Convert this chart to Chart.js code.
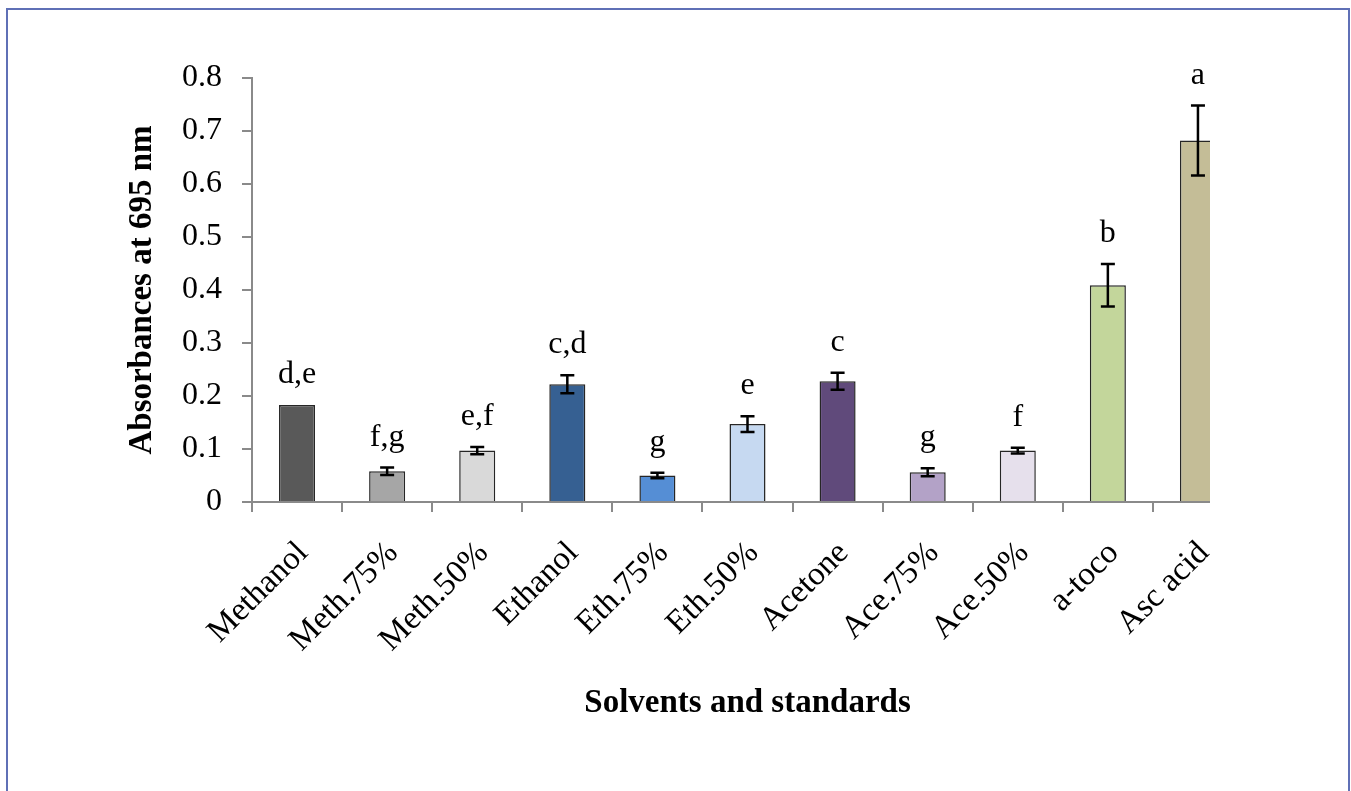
<!DOCTYPE html>
<html>
<head>
<meta charset="utf-8">
<title>Absorbances at 695 nm</title>
<script src="https://cdn.jsdelivr.net/npm/chart.js@4.4.1/dist/chart.umd.min.js"></script>
<style>
    html, body { margin: 0; padding: 0; background: #fff; }
    .wrap { position: relative; width: 1351px; height: 791px; }
</style>
</head>
<body>
<div class="wrap"><canvas id="absChart" width="1351" height="791"></canvas></div>
<script>
/* ============================================
   DATA
============================================ */
const categories = [
    'Methanol', 'Meth.75%', 'Meth.50%', 'Ethanol', 'Eth.75%', 'Eth.50%',
    'Acetone', 'Ace.75%', 'Ace.50%', 'a-toco', 'Asc acid'
];
const absorbance = [0.183, 0.058, 0.097, 0.222, 0.050, 0.147, 0.228, 0.056, 0.097, 0.409, 0.682];
const stdError   = [0, 0.007, 0.007, 0.017, 0.005, 0.015, 0.016, 0.0075, 0.0055, 0.040, 0.066];
const groupLetters = ['d,e', 'f,g', 'e,f', 'c,d', 'g', 'e', 'c', 'g', 'f', 'b', 'a'];
const yTicks = [0, 0.1, 0.2, 0.3, 0.4, 0.5, 0.6, 0.7, 0.8];
const yTickLabels = ['0', '0.1', '0.2', '0.3', '0.4', '0.5', '0.6', '0.7', '0.8'];

const barColors = [
    '#595959', '#a6a6a6', '#d9d9d9',
    '#366092', '#558ed5', '#c6d9f1',
    '#604a7b', '#b3a2c7', '#e6e0ec',
    '#c3d69b', '#c4bd97'
];

/* ============================================
   STYLE
============================================ */
const SERIF = "'Liberation Serif', 'Times New Roman', serif";
const AXIS_GREY = '#8a8a8a';
const PLOT_CUT = 33;   // the plot area is cut short on the right, as in the original

/* ============================================
   PLUGINS
============================================ */
const frame = {
    id: 'frame',
    beforeDraw(chart) {
        const { ctx } = chart;
        ctx.save();
        ctx.fillStyle = '#fff';
        ctx.fillRect(0, 0, chart.width, chart.height);
        ctx.strokeStyle = '#5f70b6';
        ctx.lineWidth = 2;
        ctx.strokeRect(7, 9, 1342, 800);
        ctx.restore();
    },
    afterDatasetsDraw(chart) {
        // x axis line, stops where the bars are cut
        const { ctx, chartArea } = chart;
        ctx.save();
        ctx.strokeStyle = AXIS_GREY;
        ctx.lineWidth = 2;
        ctx.beginPath();
        ctx.moveTo(chartArea.left, chartArea.bottom);
        ctx.lineTo(chartArea.right - PLOT_CUT, chartArea.bottom);
        ctx.stroke();
        ctx.restore();
    }
};

const errorBars = {
    id: 'errorBars',
    afterDatasetsDraw(chart) {
        const { ctx, scales: { y } } = chart;
        const meta = chart.getDatasetMeta(0);
        ctx.save();
        ctx.strokeStyle = '#000';
        ctx.fillStyle = '#000';
        meta.data.forEach((bar, i) => {
            const e = stdError[i];
            const cx = bar.x;
            const top = y.getPixelForValue(absorbance[i] + e);
            if (e > 0) {
                const bot = y.getPixelForValue(absorbance[i] - e);
                ctx.lineWidth = 2.5;
                ctx.beginPath();
                ctx.moveTo(cx, top); ctx.lineTo(cx, bot);
                ctx.moveTo(cx - 7, top); ctx.lineTo(cx + 7, top);
                ctx.moveTo(cx - 7, bot); ctx.lineTo(cx + 7, bot);
                ctx.stroke();
            }
            // significance letters
            ctx.font = '32px ' + SERIF;
            ctx.textAlign = 'center';
            ctx.textBaseline = 'alphabetic';
            ctx.fillText(groupLetters[i], cx, top - 22);
        });
        ctx.restore();
    }
};

/* ============================================
   BAR CHART
============================================ */
function initBarChart() {
    const canvas = document.getElementById('absChart');
    if (!canvas) return;

    new Chart(canvas.getContext('2d'), {
        type: 'bar',
        data: {
            labels: categories,
            datasets: [{
                data: absorbance,
                backgroundColor: barColors,
                borderColor: '#262626',
                borderWidth: 1.5,
                borderSkipped: 'bottom',
                barPercentage: 0.4,
                categoryPercentage: 1,
                clip: { left: 5, top: 60, right: -PLOT_CUT, bottom: 2 }
            }]
        },
        options: {
            responsive: false,
            animation: false,
            devicePixelRatio: 1,
            layout: { padding: { left: 0, top: 78, right: 108, bottom: 0 } },
            plugins: {
                legend: { display: false },
                tooltip: { enabled: false }
            },
            scales: {
                x: {
                    offset: true,
                    grid: {
                        offset: true,
                        drawOnChartArea: false,
                        drawTicks: true,
                        tickLength: 10,
                        lineWidth: 2,
                        // no tick past the cut edge
                        color: ctx => ctx.type === 'tick' ? AXIS_GREY : 'rgba(0,0,0,0)'
                    },
                    border: { display: false },
                    ticks: {
                        autoSkip: false,
                        minRotation: 45,
                        maxRotation: 45,
                        padding: 22,
                        labelOffset: 6,
                        color: '#000',
                        font: { family: SERIF, size: 33 }
                    },
                    title: {
                        display: true,
                        text: 'Solvents and standards',
                        color: '#000',
                        font: { family: SERIF, size: 33, weight: 'bold' },
                        padding: { top: 0, bottom: 68 }
                    },
                    afterFit: s => { s.height = 289; }
                },
                y: {
                    min: 0,
                    max: 0.8,
                    afterBuildTicks: s => { s.ticks = yTicks.map(v => ({ value: v })); },
                    grid: {
                        drawOnChartArea: false,
                        drawTicks: true,
                        tickLength: 10,
                        lineWidth: 2,
                        color: AXIS_GREY
                    },
                    border: { display: true, color: AXIS_GREY, width: 2 },
                    ticks: {
                        padding: 20,
                        color: '#000',
                        font: { family: SERIF, size: 32 },
                        callback: (v, i) => yTickLabels[i]
                    },
                    title: {
                        display: true,
                        text: 'Absorbances at 695 nm',
                        color: '#000',
                        font: { family: SERIF, size: 33, weight: 'bold' },
                        padding: { top: 123, bottom: 0 }
                    },
                    afterFit: s => { s.width = 252; }
                }
            }
        },
        plugins: [frame, errorBars]
    });
}

/* ============================================
   INIT
============================================ */
document.addEventListener('DOMContentLoaded', () => {
    initBarChart();
});
</script>
</body>
</html>
